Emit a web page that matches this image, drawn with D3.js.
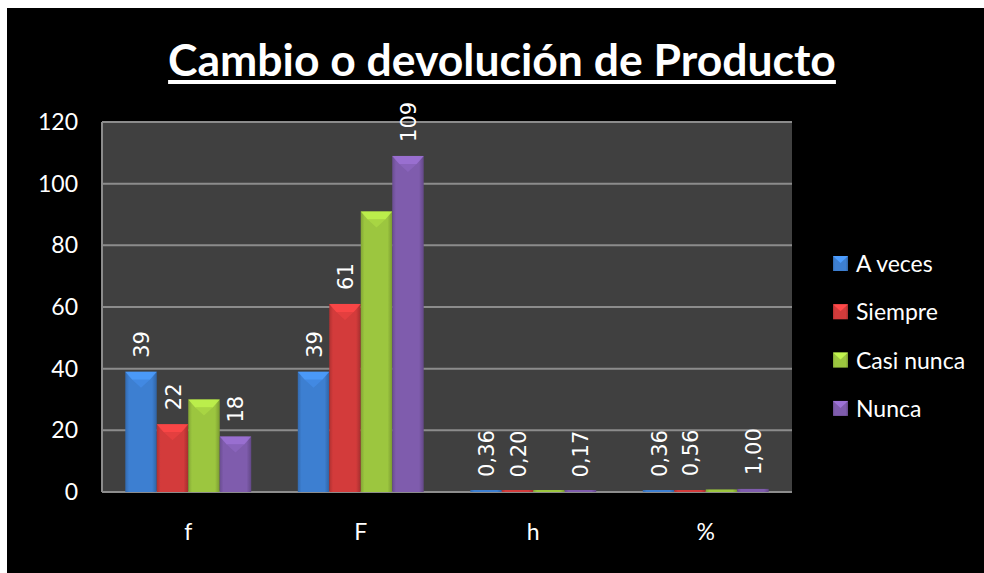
<!DOCTYPE html>
<html>
<head>
<meta charset="utf-8">
<script src="https://cdn.jsdelivr.net/npm/d3@7"></script>
<style>
  body { margin: 0; background: #fff; }
  svg { display: block; }
</style>
</head>
<body>
<div id="graph"></div>
<script>
// data
var categories = ["f", "F", "h", "%"];
var seriesNames = ["A veces", "Siempre", "Casi nunca", "Nunca"];
var aVeces    = [39, 39, 0.36, 0.36];
var siempre   = [22, 61, 0.20, 0.56];
var casiNunca = [30, 91, 0.28, 0.83];
var nunca     = [18, 109, 0.17, 1.00];
var valueLabels = [["39", "39", "0,36", "0,36"],
                   ["22", "61", "0,20", "0,56"],
                   null,
                   ["18", "109", "0,17", "1,00"]];
var yTicks = [0, 20, 40, 60, 80, 100, 120];
var colors = ["#3d7fd1", "#d33b3b", "#9cc63f", "#7f5cad"];

var W = 984, H = 573;
var mainFont = "Lato, 'Open Sans', sans-serif";

var svg = d3.select("#graph").append("svg")
    .attr("width", W).attr("height", H);

var defs = svg.append("defs");
colors.forEach(function(c, i) {
    var g = defs.append("linearGradient").attr("id", "grad" + i)
        .attr("x1", 0).attr("x2", 1).attr("y1", 0).attr("y2", 0);
    var base = d3.color(c);
    g.append("stop").attr("offset", "0%").attr("stop-color", base.darker(0.5));
    g.append("stop").attr("offset", "12%").attr("stop-color", base);
    g.append("stop").attr("offset", "85%").attr("stop-color", base);
    g.append("stop").attr("offset", "100%").attr("stop-color", base.darker(0.7));
});

// black chart area
svg.append("rect")
    .attr("x", 7).attr("y", 8)
    .attr("width", W - 7).attr("height", H - 8)
    .attr("fill", "#000");

// title
var title = svg.append("text")
    .attr("x", 502).attr("y", 76)
    .attr("text-anchor", "middle")
    .attr("fill", "#fff")
    .attr("font-family", mainFont)
    .attr("font-weight", "bold")
    .attr("font-size", 44)
    .text("Cambio o devolución de Producto");
var tw = title.node().getComputedTextLength();
title.attr("font-size", 44 * 668 / tw);
tw = title.node().getComputedTextLength();
svg.append("rect")
    .attr("x", 502 - tw / 2).attr("y", 80)
    .attr("width", tw).attr("height", 4)
    .attr("fill", "#fff");

// plot area
var pLeft = 102, pRight = 792, pTop = 122, pBottom = 492;

var x = d3.scaleBand().domain(categories)
    .range([pLeft, pRight]).paddingInner(0.27).paddingOuter(0.135);
var xs = d3.scaleBand().domain(d3.range(seriesNames.length))
    .range([0, x.bandwidth()]);
var y = d3.scaleLinear().domain([0, 120]).range([pBottom, pTop]);

svg.append("rect")
    .attr("x", pLeft).attr("y", pTop)
    .attr("width", pRight - pLeft).attr("height", pBottom - pTop)
    .attr("fill", "#404040");

svg.append("g").selectAll("line")
    .data(yTicks)
    .enter().append("line")
    .attr("x1", pLeft).attr("x2", pRight)
    .attr("y1", function(d) { return y(d); })
    .attr("y2", function(d) { return y(d); })
    .attr("stroke", "#8c8c8c")
    .attr("stroke-width", 2);

svg.append("line")
    .attr("x1", pLeft).attr("x2", pLeft)
    .attr("y1", pTop).attr("y2", pBottom)
    .attr("stroke", "#8c8c8c").attr("stroke-width", 2);

// y axis labels
var yAxis = d3.axisLeft(y).tickValues(yTicks).tickSize(0).tickPadding(24);
var ya = svg.append("g").attr("transform", "translate(" + pLeft + ",0)").call(yAxis);
ya.select(".domain").remove();
ya.selectAll("text")
    .attr("fill", "#fff")
    .attr("font-family", mainFont)
    .attr("font-size", 23);

// x axis labels
var xAxis = d3.axisBottom(x).tickSize(0).tickPadding(32);
var xa = svg.append("g").attr("transform", "translate(0," + pBottom + ")").call(xAxis);
xa.select(".domain").remove();
xa.selectAll("text")
    .attr("fill", "#fff")
    .attr("font-family", mainFont)
    .attr("font-size", 23);

// bars
var series = [aVeces, siempre, casiNunca, nunca];
series.forEach(function(vals, si) {
    var g = svg.append("g").attr("class", "series");
    var bars = g.selectAll("g.bar")
        .data(vals)
        .enter().append("g")
        .attr("class", "bar");

    bars.append("rect")
        .attr("x", function(d, i) { return x(categories[i]) + xs(si); })
        .attr("y", function(d) { return Math.min(y(d), pBottom - 2); })
        .attr("width", xs.bandwidth())
        .attr("height", function(d) { return Math.max(pBottom - y(d), 2); })
        .attr("fill", "url(#grad" + si + ")");

    // bevel on top
    bars.filter(function(d) { return pBottom - y(d) > 10; })
        .append("path")
        .attr("d", function(d, i) {
            var x0 = x(categories[i]) + xs(si), w = xs.bandwidth(), t = y(d);
            return "M" + x0 + "," + t + "H" + (x0 + w) +
                "L" + (x0 + w - 7) + "," + (t + 8) + "H" + (x0 + 7) + "Z";
        })
        .attr("fill", d3.color(colors[si]).brighter(0.6))
        .attr("opacity", 0.85);
    bars.filter(function(d) { return pBottom - y(d) > 10; })
        .append("path")
        .attr("d", function(d, i) {
            var x0 = x(categories[i]) + xs(si), w = xs.bandwidth(), t = y(d);
            return "M" + (x0 + 7) + "," + (t + 8) + "L" + (x0 + w / 2) + "," + (t + 16) +
                "L" + (x0 + w - 7) + "," + (t + 8) + "Z";
        })
        .attr("fill", d3.color(colors[si]).brighter(0.3))
        .attr("opacity", 0.7);

    if (valueLabels[si]) {
        bars.append("text")
            .attr("transform", function(d, i) {
                var cx = x(categories[i]) + xs(si) + xs.bandwidth() / 2;
                return "translate(" + (cx + 8) + "," + (y(d) - 14) + ") rotate(-90)";
            })
            .attr("fill", "#fff")
            .attr("font-family", "'DejaVu Sans', sans-serif")
            .attr("font-size", 21)
            .text(function(d, i) { return valueLabels[si][i]; });
    }
});

// legend
var legend = svg.append("g").attr("transform", "translate(833,264)");
var items = legend.selectAll("g")
    .data(seriesNames)
    .enter().append("g")
    .attr("transform", function(d, i) { return "translate(0," + (i * 48.3) + ")"; });
items.append("rect")
    .attr("x", 0).attr("y", -8)
    .attr("width", 15).attr("height", 15)
    .attr("fill", function(d, i) { return "url(#grad" + i + ")"; });
items.append("path")
    .attr("d", "M0,-8H15L7.5,-1Z")
    .attr("fill", function(d, i) { return d3.color(colors[i]).brighter(0.6); });
items.append("text")
    .attr("x", 23).attr("y", 0)
    .attr("dy", "0.35em")
    .attr("fill", "#fff")
    .attr("font-family", mainFont)
    .attr("font-size", 23)
    .text(function(d) { return d; });
</script>
</body>
</html>
